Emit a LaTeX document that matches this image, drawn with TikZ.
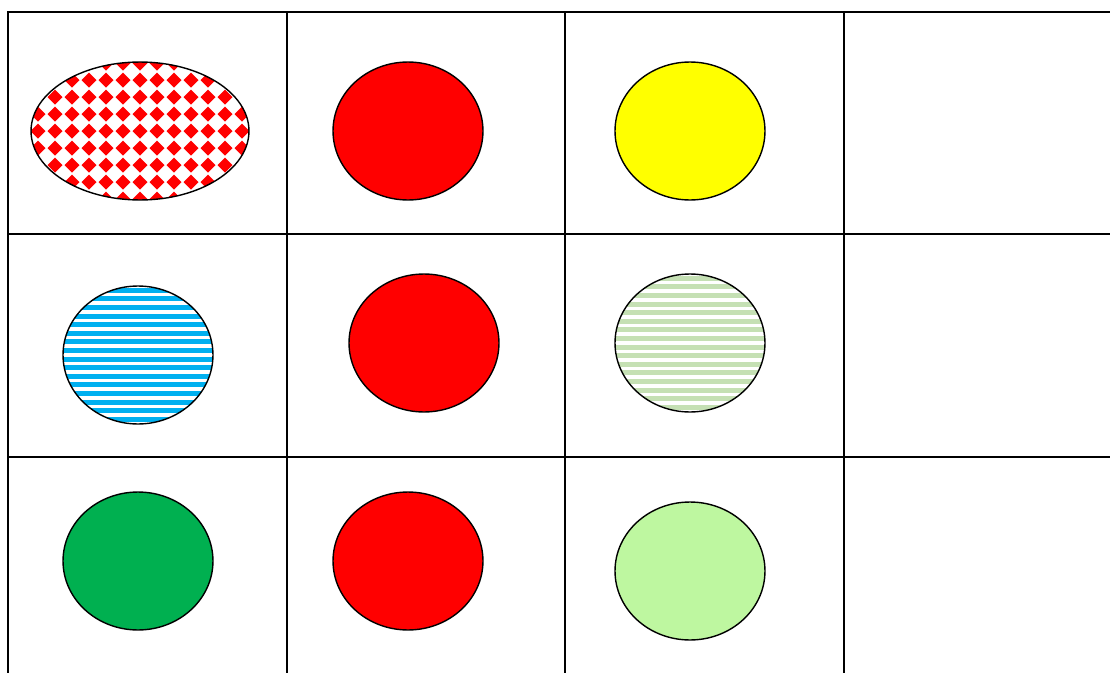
\documentclass[tikz,border=0pt]{standalone}
\usepackage{xcolor}
\usepackage{tikz}
\usetikzlibrary{shapes.geometric}

\definecolor{stripeblue}{HTML}{00B0F0}
\definecolor{stripegreen}{HTML}{C5E0B4}
\definecolor{darkgreen}{HTML}{00B050}
\definecolor{palegreen}{HTML}{BEF7A0}
\definecolor{pureyellow}{RGB}{255,255,0}
\definecolor{purered}{RGB}{255,0,0}

\begin{document}
\begin{tikzpicture}[x=0.02cm, y=-0.02cm,
  grid/.style={line width=1.1pt},
  disc/.style={ellipse, draw, line width=0.8pt, inner sep=0pt, minimum width=3cm, minimum height=2.76cm},
  wide/.style={minimum width=4.36cm},
  stripes/.style={path picture={
    \begin{scope}[shift={(path picture bounding box.center)}]
      \foreach \k in {-9,...,8} \fill[#1] (-120,\k*8.6+1.5) rectangle (120,\k*8.6+6.5);
    \end{scope}}},
  diamonds/.style={path picture={
    \begin{scope}[shift={(path picture bounding box.center)}]
      \foreach \i in {-7,...,7} \foreach \j in {-5,...,5}
        \fill[purered] (\i*17,\j*17-7.5) -- ++(7.5,7.5) -- ++(-7.5,7.5) -- ++(-7.5,-7.5) -- cycle;
    \end{scope}}}
]
\useasboundingbox (0,0) rectangle (1110,673);

% Table
\draw[grid] (8,673) -- (8,12) -- (1120,12);
\draw[grid] (8,234) -- (1120,234);
\draw[grid] (8,457) -- (1120,457);
\foreach \x in {287,565,844} \draw[grid] (\x,12) -- (\x,673);

% Row 1
\node[disc, wide, diamonds] (checked) at (140,131) {};
\node[disc, fill=purered] (redA) at (408,131) {};
\node[disc, fill=pureyellow] (yellowA) at (690,131) {};

% Row 2
\node[disc, stripes=stripeblue] (blueS) at (138,355) {};
\node[disc, fill=purered] (redB) at (424,343) {};
\node[disc, stripes=stripegreen] (greenS) at (690,343) {};

% Row 3
\node[disc, fill=darkgreen] (greenA) at (138,561) {};
\node[disc, fill=purered] (redC) at (408,561) {};
\node[disc, fill=palegreen] (greenB) at (690,571) {};
\end{tikzpicture}
\end{document}
